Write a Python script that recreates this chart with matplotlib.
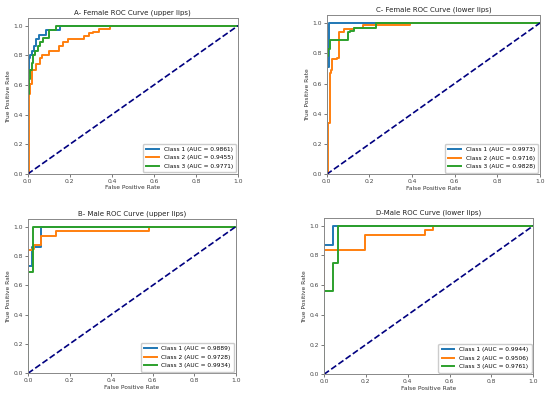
import matplotlib
matplotlib.use("Agg")
import matplotlib.pyplot as plt

titles = ["A- Female ROC Curve (upper lips)", "C- Female ROC Curve (lower lips)",
          "B- Male ROC Curve (upper lips)", "D-Male ROC Curve (lower lips)"]
class_labels = ["Class 1", "Class 2", "Class 3"]

# AUC values per panel (A, C, B, D)
auc_A = [0.9861, 0.9455, 0.9771]
auc_C = [0.9973, 0.9716, 0.9828]
auc_B = [0.9889, 0.9728, 0.9934]
auc_D = [0.9944, 0.9506, 0.9761]

# ROC step points: (fpr where tpr jumps, tpr after jump)
A_c1_fpr = [0, 0, 0.005, 0.01, 0.02, 0.03, 0.04, 0.055, 0.087, 0.153, 1.0]
A_c1_tpr = [0, 0.68, 0.78, 0.80, 0.83, 0.86, 0.91, 0.94, 0.97, 1.0, 1.0]
A_c2_fpr = [0, 0.005, 0.01, 0.02, 0.04, 0.06, 0.07, 0.10, 0.15, 0.17, 0.19, 0.27, 0.29, 0.31, 0.34, 0.39, 1.0]
A_c2_tpr = [0, 0.54, 0.61, 0.70, 0.74, 0.78, 0.80, 0.83, 0.86, 0.89, 0.91, 0.93, 0.95, 0.96, 0.98, 1.0, 1.0]
A_c3_fpr = [0, 0, 0.005, 0.01, 0.02, 0.025, 0.035, 0.05, 0.06, 0.075, 0.10, 0.135, 1.0]
A_c3_tpr = [0, 0.54, 0.64, 0.70, 0.75, 0.80, 0.83, 0.86, 0.89, 0.92, 0.97, 1.0, 1.0]

C_c1_fpr = [0, 0.003, 0.012, 1.0]
C_c1_tpr = [0, 0.71, 1.0, 1.0]
C_c2_fpr = [0, 0.008, 0.015, 0.02, 0.025, 0.05, 0.06, 0.08, 0.13, 0.17, 0.39, 1.0]
C_c2_tpr = [0, 0.34, 0.67, 0.69, 0.76, 0.77, 0.94, 0.96, 0.97, 0.985, 1.0, 1.0]
C_c3_fpr = [0, 0, 0.005, 0.015, 0.10, 0.11, 0.13, 0.14, 0.23, 1.0]
C_c3_tpr = [0, 0.78, 0.83, 0.89, 0.94, 0.95, 0.97, 0.97, 1.0, 1.0]

B_c1_fpr = [0, 0, 0.02, 0.063, 1.0]
B_c1_tpr = [0, 0.73, 0.86, 1.0, 1.0]
B_c2_fpr = [0, 0, 0.02, 0.03, 0.063, 0.133, 0.583, 1.0]
B_c2_tpr = [0, 0.84, 0.845, 0.875, 0.94, 0.97, 1.0, 1.0]
B_c3_fpr = [0, 0, 0.026, 1.0]
B_c3_tpr = [0, 0.69, 1.0, 1.0]

D_c1_fpr = [0, 0, 0.045, 1.0]
D_c1_tpr = [0, 0.87, 1.0, 1.0]
D_c2_fpr = [0, 0, 0.194, 0.483, 0.519, 1.0]
D_c2_tpr = [0, 0.84, 0.94, 0.97, 1.0, 1.0]
D_c3_fpr = [0, 0, 0.045, 0.065, 1.0]
D_c3_tpr = [0, 0.56, 0.75, 1.0, 1.0]

panels = [
    ([(A_c1_fpr, A_c1_tpr), (A_c2_fpr, A_c2_tpr), (A_c3_fpr, A_c3_tpr)], auc_A),
    ([(C_c1_fpr, C_c1_tpr), (C_c2_fpr, C_c2_tpr), (C_c3_fpr, C_c3_tpr)], auc_C),
    ([(B_c1_fpr, B_c1_tpr), (B_c2_fpr, B_c2_tpr), (B_c3_fpr, B_c3_tpr)], auc_B),
    ([(D_c1_fpr, D_c1_tpr), (D_c2_fpr, D_c2_tpr), (D_c3_fpr, D_c3_tpr)], auc_D),
]

colors = ["#1f77b4", "#ff7f0e", "#2ca02c"]

W, H = 550, 398
# axes rectangles in pixels: (x0, x1, y_top(1.05), y_bottom(0))
rects = [
    (27.7, 238.0, 18.3, 174.0),
    (326.7, 540.0, 15.4, 174.3),
    (28.0, 235.7, 219.4, 373.3),
    (324.0, 533.3, 218.3, 374.3),
]

fig = plt.figure(figsize=(W / 100, H / 100), dpi=100)
for (curves, aucs), title, (x0, x1, yt, yb) in zip(panels, titles, rects):
    ax = fig.add_axes([x0 / W, (H - yb) / H, (x1 - x0) / W, (yb - yt) / H])
    for (fpr, tpr), c, lab, a in zip(curves, colors, class_labels, aucs):
        ax.plot(fpr, tpr, drawstyle="steps-post", color=c, lw=1.4,
                label=f"{lab} (AUC = {a:.4f})")
    ax.plot([0, 1], [0, 1], color="navy", lw=1.2, ls="--")
    ax.set_xlim(0, 1.0)
    ax.set_ylim(0, 1.05)
    ax.set_xticks([0, 0.2, 0.4, 0.6, 0.8, 1.0])
    ax.set_yticks([0, 0.2, 0.4, 0.6, 0.8, 1.0])
    ax.tick_params(labelsize=4.3, length=2, width=0.5, pad=1.5, colors="#444444")
    ax.set_xlabel("False Positive Rate", fontsize=4.2, labelpad=1, color="#333333")
    ax.set_ylabel("True Positive Rate", fontsize=4.2, labelpad=2, color="#333333")
    ax.set_title(title, fontsize=5.0, pad=3, color="#222222")
    for s in ax.spines.values():
        s.set_linewidth(0.7)
        s.set_color("#888888")
    ax.legend(loc="lower right", fontsize=4.2, handlelength=2.2, borderpad=0.55,
              labelspacing=0.6, framealpha=1, edgecolor="#cccccc",
              borderaxespad=0.3)

fig.savefig("out.png", dpi=100)
